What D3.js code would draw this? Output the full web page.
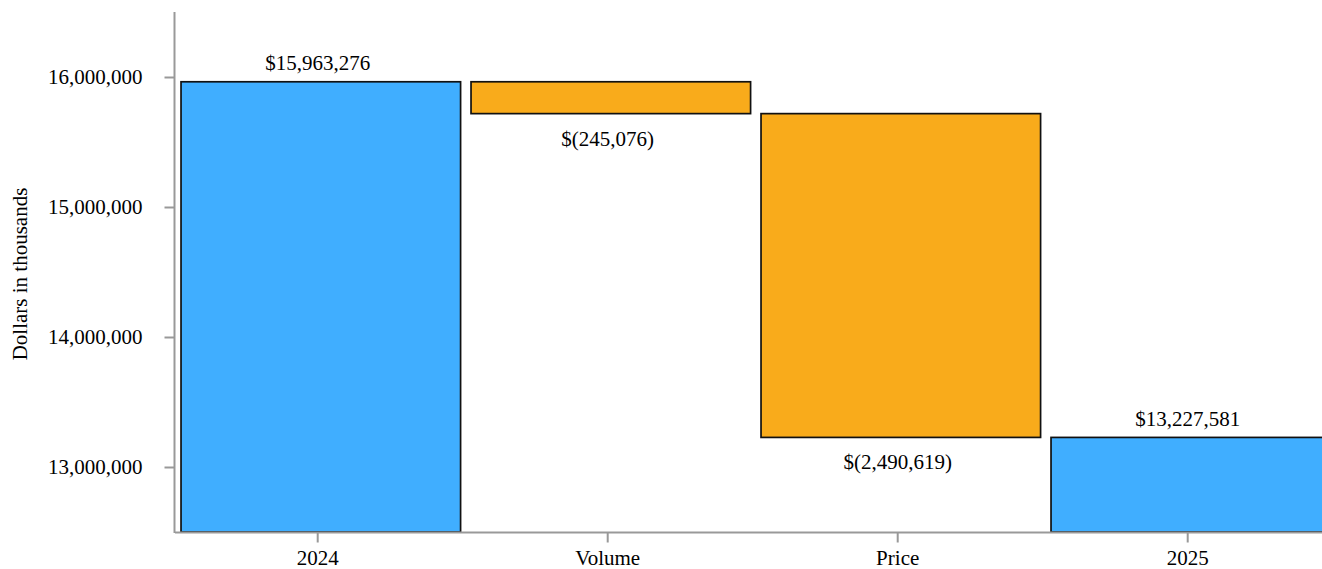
<!DOCTYPE html>
<html>
<head>
<meta charset="utf-8">
<script src="https://cdn.jsdelivr.net/npm/d3@7"></script>
<style>
  html, body { margin: 0; padding: 0; background: #fff; }
  svg { display: block; }
  svg text { font-family: 'Liberation Serif', 'Times New Roman', serif !important; fill: #000; }
</style>
</head>
<body>
<svg id="chart" width="1322" height="569"></svg>
<script>
// ---- data ----
const categories = ["2024", "Volume", "Price", "2025"];
const changes = [15963276, -245076, -2490619, 13227581];
const kinds = ["total", "delta", "delta", "total"];
const valueLabels = ["$15,963,276", "$(245,076)", "$(2,490,619)", "$13,227,581"];
const yTicks = [13000000, 14000000, 15000000, 16000000];
const yDomain = [12500000, 16500000];
const yTitle = "Dollars in thousands";

// ---- build waterfall rows ----
let running = 0;
const rows = categories.map((c, i) => {
  let start, end;
  if (kinds[i] === "total") { start = yDomain[0]; end = changes[i]; running = changes[i]; }
  else { start = running; end = running + changes[i]; running = end; }
  return { cat: c, start, end, kind: kinds[i], label: valueLabels[i], neg: changes[i] < 0 && kinds[i] !== "total" };
});

const svg = d3.select("#chart");
const fs = 21;
const serif = "'Liberation Serif', 'Times New Roman', serif";

const x = d3.scaleBand().domain(categories).range([172.7, 1332.7]).padding(0);
const y = d3.scaleLinear().domain(yDomain).range([532, 12]);

const colors = { total: "#40aeff", delta: "#f9ab1b" };

// bars
svg.append("g").selectAll("rect").data(rows).join("rect")
  .attr("x", d => x(d.cat) + x.bandwidth() * 0.0287)
  .attr("width", x.bandwidth() * 0.964)
  .attr("y", d => y(Math.max(d.start, d.end)))
  .attr("height", d => Math.abs(y(d.start) - y(d.end)))
  .attr("fill", d => colors[d.kind])
  .attr("stroke", "#111")
  .attr("stroke-width", 1.7);

// value labels
svg.append("g").selectAll("text").data(rows).join("text")
  .attr("x", d => x(d.cat) + x.bandwidth() / 2)
  .attr("y", d => d.neg ? y(Math.min(d.start, d.end)) + 32 : y(Math.max(d.start, d.end)) - 11.5)
  .attr("text-anchor", "middle")
  .attr("font-family", serif)
  .style("font-size", fs + "px")
  .text(d => d.label);

// y axis
const yAxis = svg.append("g").attr("transform", "translate(174.5,0)")
  .call(d3.axisLeft(y).tickValues(yTicks).tickSize(10).tickPadding(22).tickFormat(d3.format(",")));
yAxis.attr("font-family", serif).attr("font-size", fs);
yAxis.select(".domain").remove();
yAxis.selectAll(".tick line").attr("stroke", "#999").attr("stroke-width", 2);
yAxis.selectAll(".tick text").attr("font-family", serif).style("font-size", fs + "px").attr("fill", "#000");
svg.append("line").attr("x1", 174.5).attr("x2", 174.5).attr("y1", 12).attr("y2", 533)
  .attr("stroke", "#999").attr("stroke-width", 2);

// x axis
const xAxis = svg.append("g").attr("transform", "translate(0,532.5)")
  .call(d3.axisBottom(x).tickSize(10).tickPadding(8));
xAxis.attr("font-family", serif).attr("font-size", fs);
xAxis.select(".domain").remove();
xAxis.selectAll(".tick line").attr("stroke", "#999").attr("stroke-width", 2);
xAxis.selectAll(".tick text").attr("font-family", serif).style("font-size", fs + "px").attr("fill", "#000");
svg.append("line").attr("x1", 175).attr("x2", 1322).attr("y1", 532.5).attr("y2", 532.5)
  .attr("stroke", "#999").attr("stroke-width", 2);

// y title
svg.append("text")
  .attr("transform", "translate(27,274) rotate(-90)")
  .attr("text-anchor", "middle")
  .attr("font-family", serif)
  .style("font-size", fs + "px")
  .text(yTitle);
</script>
</body>
</html>
